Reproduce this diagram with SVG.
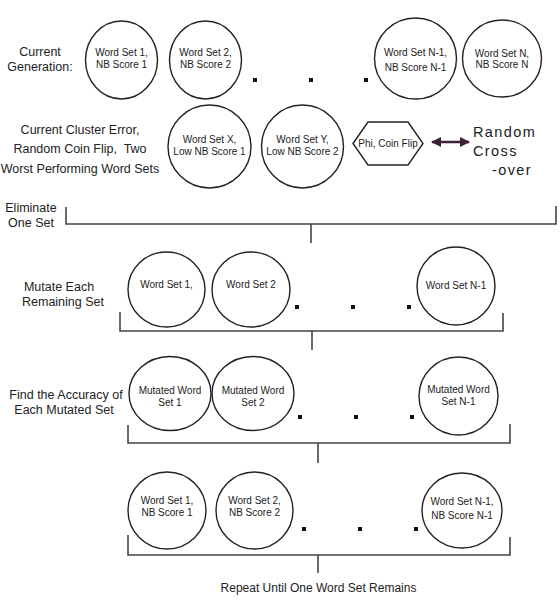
<svg xmlns="http://www.w3.org/2000/svg" width="560" height="605" viewBox="0 0 560 605">
<style>
  .n { fill: #fff; stroke: #222; stroke-width: 1.4; }
  .t { font-family: "Liberation Sans", Arial, sans-serif; font-size: 10px; fill: #222; text-anchor: middle; }
  .l { font-family: "Liberation Sans", Arial, sans-serif; font-size: 12.5px; fill: #222; text-anchor: middle; }
  .b { fill: none; stroke: #444; stroke-width: 1.6; }
  .d { fill: #111; }
  .rc { font-family: "Liberation Sans", Arial, sans-serif; font-size: 14.5px; fill: #1a1a1a; letter-spacing: 1.4px; }
</style>
<defs>
  <marker id="ah" viewBox="0 0 10 10" refX="9" refY="5" markerWidth="10" markerHeight="10" markerUnits="userSpaceOnUse" orient="auto-start-reverse">
    <path d="M0,0 L10,5 L0,10 z" fill="#3d1f3a"/>
  </marker>
</defs>
<rect width="560" height="605" fill="#fff"/>

<!-- Labels -->
<g id="labels">
  <text class="l" x="40" y="56">Current</text>
  <text class="l" x="40" y="71">Generation:</text>
  <text class="l" x="80" y="134">Current Cluster Error,</text>
  <text class="l" x="80" y="153" xml:space="preserve">Random Coin Flip,  Two</text>
  <text class="l" x="80" y="173">Worst Performing Word Sets</text>
  <text class="l" x="31" y="212">Eliminate</text>
  <text class="l" x="31" y="227">One Set</text>
  <text class="l" x="59" y="291">Mutate Each</text>
  <text class="l" x="63" y="306">Remaining Set</text>
  <text class="l" x="66" y="399">Find the Accuracy of</text>
  <text class="l" x="64" y="414">Each Mutated Set</text>
  <text class="l" x="318.5" y="592" style="font-size:12px">Repeat Until One Word Set Remains</text>
  <text class="rc" x="473" y="137">Random</text>
  <text class="rc" x="473" y="156">Cross</text>
  <text class="rc" x="492" y="175">-over</text>
</g>

<!-- Connectors -->
<g id="connectors">
  <path class="b" d="M66,207 V224 H556 V206 M311,224 V243"/>
  <path class="b" d="M120,312 V331 H503 V313 M312,331 V350"/>
  <path class="b" d="M128,425 V443 H510 V424 M318,443 V463"/>
  <path class="b" d="M128,535 V555 H510 V537 M318,555 V573"/>
  <line x1="432" y1="142" x2="469" y2="142" stroke="#3d1f3a" stroke-width="2.5" marker-start="url(#ah)" marker-end="url(#ah)"/>
</g>

<!-- Row 1 -->
<g id="r1n1"><ellipse class="n" cx="121.5" cy="60" rx="36" ry="39"/><text class="t" x="121.5" y="56">Word Set 1,</text><text class="t" x="121.5" y="68">NB Score 1</text></g>
<g id="r1n2"><ellipse class="n" cx="205.5" cy="60" rx="36" ry="39"/><text class="t" x="205.5" y="56">Word Set 2,</text><text class="t" x="205.5" y="68">NB Score 2</text></g>
<g id="r1dots"><rect class="d" x="253" y="78" width="4" height="4"/><rect class="d" x="309" y="78" width="4" height="4"/><rect class="d" x="364" y="78" width="4" height="4"/></g>
<g id="r1n3"><ellipse class="n" cx="415.5" cy="58.5" rx="41" ry="40.5"/><text class="t" x="415.5" y="56">Word Set N-1,</text><text class="t" x="415.5" y="71">NB Score N-1</text></g>
<g id="r1n4"><ellipse class="n" cx="502" cy="58.5" rx="39.5" ry="38.5"/><text class="t" x="502" y="57">Word Set N,</text><text class="t" x="502" y="68">NB Score N</text></g>

<!-- Row 2 -->
<g id="r2x"><ellipse class="n" cx="209.5" cy="146.5" rx="41.5" ry="41.5"/><text class="t" x="209.5" y="143">Word Set X,</text><text class="t" x="209.5" y="155">Low NB Score 1</text></g>
<g id="r2y"><ellipse class="n" cx="302.5" cy="146.5" rx="41" ry="41.5"/><text class="t" x="302.5" y="143">Word Set Y,</text><text class="t" x="302.5" y="155">Low NB Score 2</text></g>
<g id="phi"><polygon class="n" points="353,143.5 368,122 408,122 423,143.5 408,165 368,165"/><text class="t" x="388" y="147">Phi, Coin Flip</text></g>

<!-- Row 3 -->
<g id="r3n1"><ellipse class="n" cx="166.5" cy="289.5" rx="38.5" ry="37.5"/><text class="t" x="166.5" y="288">Word Set 1,</text></g>
<g id="r3n2"><ellipse class="n" cx="251" cy="289.5" rx="39" ry="37.5"/><text class="t" x="251" y="288">Word Set 2</text></g>
<g id="r3dots"><rect class="d" x="295" y="305" width="4" height="4"/><rect class="d" x="351" y="305" width="4" height="4"/><rect class="d" x="407" y="305" width="4" height="4"/></g>
<g id="r3n3"><ellipse class="n" cx="456" cy="286" rx="39" ry="39"/><text class="t" x="456" y="289">Word Set N-1</text></g>

<!-- Row 4 -->
<g id="r4n1"><ellipse class="n" cx="170" cy="393.5" rx="41" ry="37"/><text class="t" x="170" y="394">Mutated Word</text><text class="t" x="170" y="406">Set 1</text></g>
<g id="r4n2"><ellipse class="n" cx="253" cy="393.5" rx="41" ry="37"/><text class="t" x="253" y="394">Mutated Word</text><text class="t" x="253" y="406">Set 2</text></g>
<g id="r4dots"><rect class="d" x="298" y="415" width="4" height="4"/><rect class="d" x="354" y="415" width="4" height="4"/><rect class="d" x="410" y="415" width="4" height="4"/></g>
<g id="r4n3"><ellipse class="n" cx="458.5" cy="396" rx="39.5" ry="39"/><text class="t" x="458.5" y="393">Mutated Word</text><text class="t" x="458.5" y="405">Set N-1</text></g>

<!-- Row 5 -->
<g id="r5n1"><ellipse class="n" cx="167" cy="510.5" rx="39" ry="38.5"/><text class="t" x="167" y="504">Word Set 1,</text><text class="t" x="167" y="516">NB Score 1</text></g>
<g id="r5n2"><ellipse class="n" cx="254.5" cy="510.5" rx="38.5" ry="38.5"/><text class="t" x="254.5" y="504">Word Set 2,</text><text class="t" x="254.5" y="516">NB Score 2</text></g>
<g id="r5dots"><rect class="d" x="302" y="527" width="4" height="4"/><rect class="d" x="358" y="527" width="4" height="4"/><rect class="d" x="414" y="527" width="4" height="4"/></g>
<g id="r5n3"><ellipse class="n" cx="462" cy="510.5" rx="40" ry="37.5"/><text class="t" x="462" y="505">Word Set N-1,</text><text class="t" x="462" y="519">NB Score N-1</text></g>
</svg>
